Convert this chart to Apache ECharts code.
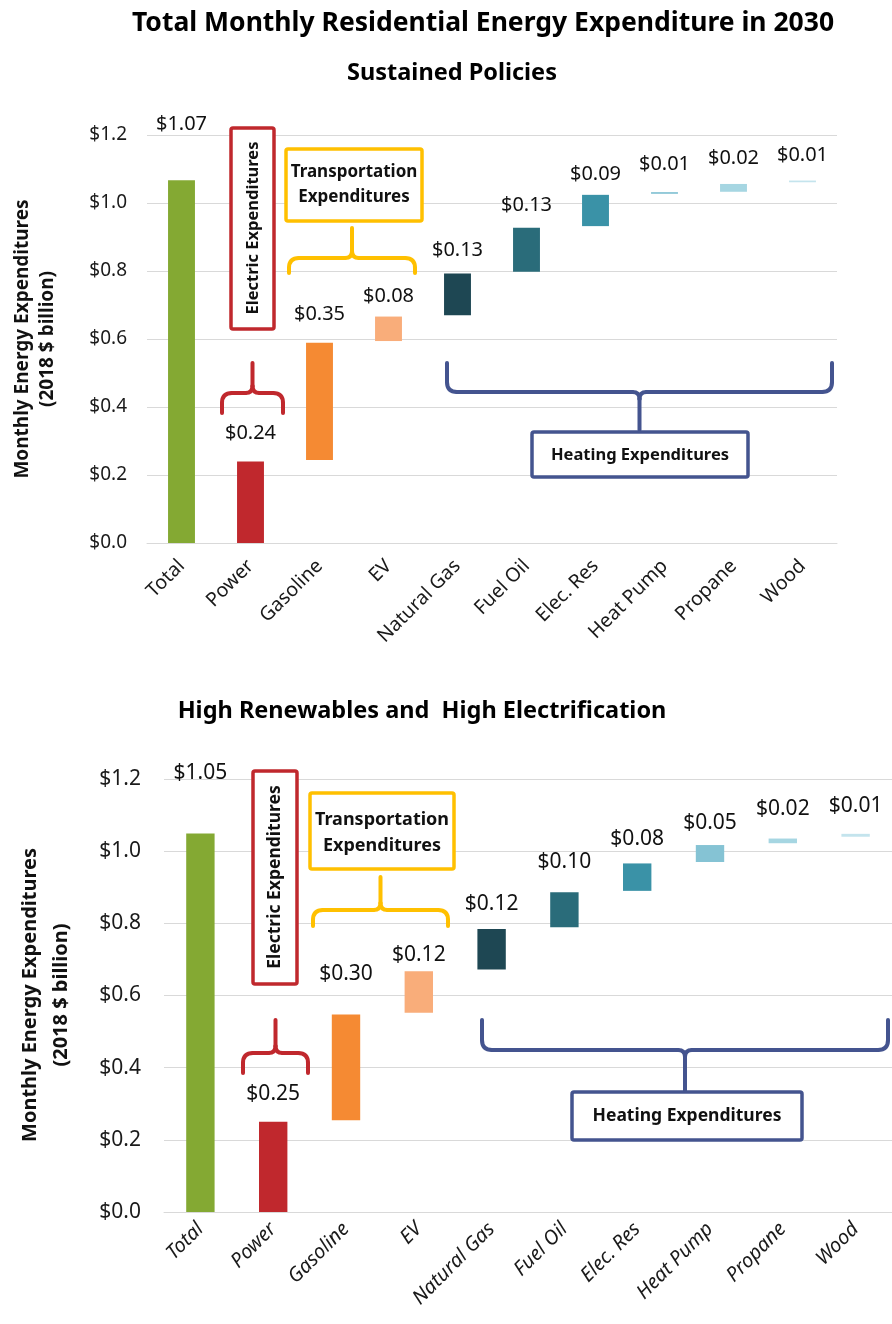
<!DOCTYPE html>
<html><head><meta charset="utf-8">
<script src="https://cdn.jsdelivr.net/npm/echarts@6/dist/echarts.min.js"></script>
<style>html,body{margin:0;padding:0;background:#fff}#c{width:892px;height:1324px}</style>
</head><body><div id="c"></div>
<script>
// ---------- DATA ----------
const categories = ['Total', 'Power', 'Gasoline', 'EV', 'Natural Gas', 'Fuel Oil', 'Elec. Res', 'Heat Pump', 'Propane', 'Wood'];
// Sustained Policies: bottom and top of each floating bar ($ billion)
const sustainedLow  = [0, 0, 0.244, 0.594, 0.670, 0.798, 0.932, 1.027, 1.033, 1.061];
const sustainedHigh = [1.067, 0.240, 0.589, 0.666, 0.793, 0.927, 1.024, 1.032, 1.056, 1.066];
const sustainedLabels = ['$1.07', '$0.24', '$0.35', '$0.08', '$0.13', '$0.13', '$0.09', '$0.01', '$0.02', '$0.01'];
// High Renewables and High Electrification
const highLow  = [0, 0, 0.254, 0.552, 0.672, 0.789, 0.890, 0.970, 1.022, 1.040];
const highHigh = [1.049, 0.250, 0.547, 0.667, 0.784, 0.886, 0.966, 1.017, 1.035, 1.048];
const highLabels = ['$1.05', '$0.25', '$0.30', '$0.12', '$0.12', '$0.10', '$0.08', '$0.05', '$0.02', '$0.01'];
const yMin = 0, yMax = 1.2, yStep = 0.2;

// ---------- STYLE / LAYOUT ----------
const barColors = ['#84A933', '#C0282D', '#F58A33', '#F9AD7A', '#1E4753', '#2A6C7A', '#3A92A7', '#85C3D4', '#A6D6E2', '#C4E4ED'];
const topLabelGap = [46, 18, 18, 10, 13, 13, 11, 18, 16, 15];
const botLabelGap = [50, 17, 30, 6, 15, 20, 14, 12, 19, 17];
const FONT = 'Noto Sans';
const RED = '#C0282D', YEL = '#FFC000', BLUE = '#44548F';

function seriesPair(low, high, labels, gaps, idx, fs) {
  return [
    { type: 'bar', xAxisIndex: idx, yAxisIndex: idx, stack: 's' + idx, silent: true,
      itemStyle: { color: 'rgba(0,0,0,0)' }, data: low, barWidth: '39%' },
    { type: 'bar', xAxisIndex: idx, yAxisIndex: idx, stack: 's' + idx, barWidth: '39%', barMinHeight: 1,
      data: high.map((h, i) => ({
        value: +(h - low[i]).toFixed(4),
        itemStyle: { color: barColors[i] },
        label: { distance: gaps[i] }
      })),
      label: { show: true, position: 'top', fontFamily: FONT, fontSize: fs, color: '#111',
        formatter: p => labels[p.dataIndex] } }
  ];
}

function brace(x1, x2, yEnd, yBar, yStem, color) {
  const cx = (x1 + x2) / 2, r = 10, r2 = 7;
  const s = yEnd > yBar ? 1 : -1;
  const st = { fill: 'none', stroke: color, lineWidth: 4, lineCap: 'round', lineJoin: 'round' };
  const ln = (a, b, c, d) => ({ type: 'line', z: 50, shape: { x1: a, y1: b, x2: c, y2: d }, style: st });
  const qc = (a, b, cpx, cpy, c, d) => ({ type: 'bezierCurve', z: 50,
    shape: { x1: a, y1: b, cpx1: cpx, cpy1: cpy, x2: c, y2: d }, style: st });
  return [
    ln(x1, yEnd, x1, yBar + s * r),
    qc(x1, yBar + s * r, x1, yBar, x1 + r, yBar),
    ln(x1 + r, yBar, cx - r2, yBar),
    qc(cx - r2, yBar, cx, yBar, cx, yBar - s * r2),
    qc(cx + r2, yBar, cx, yBar, cx, yBar - s * r2),
    ln(cx, yBar - s * r2, cx, yStem),
    ln(cx + r2, yBar, x2 - r, yBar),
    qc(x2 - r, yBar, x2, yBar, x2, yBar + s * r),
    ln(x2, yBar + s * r, x2, yEnd)
  ];
}
function box(x, y, w, h, color) {
  return { type: 'rect', shape: { x, y, width: w, height: h, r: 2 }, z: 50,
    style: { fill: '#fff', stroke: color, lineWidth: 3.5 } };
}
function txt(t, x, y, fs, rot, lh) {
  return { type: 'text', x, y, rotation: rot || 0, z: 60,
    style: { text: t, fontFamily: FONT, fontWeight: 'bold', fontSize: fs, fill: '#111',
      textAlign: 'center', textVerticalAlign: 'middle', lineHeight: lh || Math.round(fs * 1.3) } };
}

const chart = echarts.init(document.getElementById('c'), null, { renderer: 'canvas' });
const yAxisBase = (fs, margin) => ({
  type: 'value', min: yMin, max: yMax, interval: yStep,
  axisLine: { show: false }, axisTick: { show: false },
  splitLine: { lineStyle: { color: '#D9D9D9', width: 1 } },
  axisLabel: { fontFamily: FONT, fontSize: fs, color: '#1a1a1a', margin, formatter: v => '$' + v.toFixed(1) }
});
const xAxisBase = (fs, italic, margin) => ({
  type: 'category', data: categories,
  axisLine: { lineStyle: { color: '#D9D9D9' } }, axisTick: { show: false },
  axisLabel: { interval: 0, rotate: 45, fontFamily: FONT, fontSize: fs, color: '#1a1a1a', margin,
    fontStyle: italic ? 'italic' : 'normal' }
});

chart.setOption({
  animation: false,
  backgroundColor: '#fff',
  title: [
    { text: 'Total Monthly Residential Energy Expenditure in 2030', left: 478, top: 5, textAlign: 'center',
      textStyle: { fontFamily: FONT, fontWeight: 'bold', fontSize: 26.5, color: '#000' } },
    { text: 'Sustained Policies', left: 447, top: 56, textAlign: 'center',
      textStyle: { fontFamily: FONT, fontWeight: 'bold', fontSize: 23.5, color: '#000' } },
    { text: 'High Renewables and  High Electrification', left: 417, top: 694, textAlign: 'center',
      textStyle: { fontFamily: FONT, fontWeight: 'bold', fontSize: 23.5, color: '#000' } }
  ],
  grid: [
    { left: 147, top: 135, width: 690, height: 408 },
    { left: 164, top: 779, width: 730, height: 433 }
  ],
  xAxis: [
    Object.assign(xAxisBase(19.5, false, 20), { gridIndex: 0 }),
    Object.assign(xAxisBase(20, true, 14), { gridIndex: 1 })
  ],
  yAxis: [
    Object.assign(yAxisBase(19, 20), { gridIndex: 0 }),
    Object.assign(yAxisBase(21, 23), { gridIndex: 1 })
  ],
  series: [
    ...seriesPair(sustainedLow, sustainedHigh, sustainedLabels, topLabelGap, 0, 20),
    ...seriesPair(highLow, highHigh, highLabels, botLabelGap, 1, 21)
  ],
  graphic: [
    // axis names
    txt('Monthly Energy Expenditures\n(2018 $ billion)', 35, 339, 19, Math.PI / 2, 25),
    txt('Monthly Energy Expenditures\n(2018 $ billion)', 46, 995, 20, Math.PI / 2, 31),
    // top chart annotations
    box(231, 128, 43, 201, RED),
    txt('Electric Expenditures', 253, 228, 16.5, Math.PI / 2),
    ...brace(222, 283, 413, 393, 363, RED),
    box(286, 149, 136, 72, YEL),
    txt('Transportation\nExpenditures', 354, 185, 17, 0, 25),
    ...brace(289, 415, 273, 258, 228, YEL),
    ...brace(447, 832, 363, 392, 430, BLUE),
    box(532, 432, 216, 45, BLUE),
    txt('Heating Expenditures', 640, 455, 16.5),
    // bottom chart annotations
    box(253, 771, 44, 213, RED),
    txt('Electric Expenditures', 275, 877, 17.5, Math.PI / 2),
    ...brace(243, 308, 1073, 1053, 1020, RED),
    box(310, 793, 144, 76, YEL),
    txt('Transportation\nExpenditures', 382, 833, 18, 0, 26),
    ...brace(313, 448, 926, 910, 877, YEL),
    ...brace(482, 888, 1020, 1050, 1092, BLUE),
    box(572, 1092, 230, 48, BLUE),
    txt('Heating Expenditures', 687, 1116, 17.5)
  ]
});
</script></body></html>
